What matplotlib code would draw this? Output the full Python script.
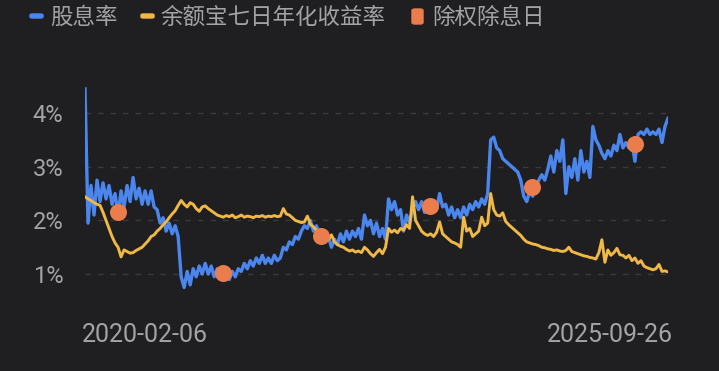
import matplotlib
matplotlib.use("Agg")
import matplotlib.pyplot as plt
import matplotlib.transforms as mtransforms
from matplotlib.patches import FancyBboxPatch
import pandas as pd

start_date = "2020-02-06"
end_date = "2025-09-26"

dividend_yield = [
    4.45, 1.95, 2.65, 2.1, 2.75, 2.35, 2.7, 2.4, 2.65, 2.3,
    2.5, 2.1, 2.55, 2.25, 2.65, 2.35, 2.8, 2.4, 2.6, 2.3,
    2.55, 2.3, 2.55, 2.25, 2.2, 1.95, 2.05, 1.8, 1.95, 1.75,
    1.9, 1.7, 0.95, 0.75, 1.05, 0.8, 1.1, 0.95, 1.15, 1.0,
    1.2, 1.0, 1.15, 0.95, 1.1, 1.0, 1.05, 0.95, 0.9, 1.05,
    0.95, 1.1, 1.05, 1.2, 1.1, 1.25, 1.15, 1.3, 1.2, 1.35,
    1.2, 1.3, 1.2, 1.35, 1.25, 1.3, 1.5, 1.45, 1.6, 1.55,
    1.7, 1.65, 1.8, 1.9, 1.85, 2.0, 1.8, 1.9, 1.75, 1.7,
    1.6, 1.7, 1.5, 1.65, 1.55, 1.75, 1.6, 1.8, 1.65, 1.8,
    1.7, 1.85, 1.65, 2.1, 1.9, 2.0, 1.75, 1.95, 1.7, 1.85,
    1.65, 2.4, 2.2, 2.35, 2.1, 2.2, 1.8, 2.1, 1.95, 2.2,
    2.35, 2.2, 2.35, 2.15, 2.3, 2.2, 2.35, 2.2, 2.5, 2.25,
    2.3, 2.1, 2.25, 2.05, 2.2, 2.05, 2.25, 2.1, 2.3, 2.2,
    2.35, 2.25, 2.4, 2.3, 2.5, 3.5, 3.55, 3.35, 3.3, 3.15,
    3.1, 3.05, 3.0, 2.95, 2.9, 2.75, 2.45, 2.35, 2.55, 2.45,
    2.65, 2.75, 2.85, 2.75, 2.95, 3.2, 2.9, 3.3, 3.1, 3.5,
    2.5, 3.0, 2.8, 3.15, 2.75, 3.3, 2.9, 3.1, 2.8, 3.75,
    3.5, 3.4, 3.25, 3.15, 3.3, 3.2, 3.4, 3.3, 3.6, 3.35,
    3.45, 3.35, 3.45, 3.1, 3.6, 3.65, 3.6, 3.7, 3.6, 3.65,
    3.6, 3.7, 3.45, 3.75, 3.9,
]

yuebao_7day = [
    2.44, 2.4, 2.37, 2.33, 2.3, 2.28, 2.15, 2.0, 1.85, 1.7,
    1.58, 1.5, 1.32, 1.45, 1.42, 1.39, 1.4, 1.44, 1.47, 1.5,
    1.56, 1.62, 1.7, 1.73, 1.8, 1.85, 1.92, 1.97, 2.05, 2.12,
    2.18, 2.28, 2.37, 2.3, 2.25, 2.33, 2.3, 2.22, 2.17, 2.25,
    2.27, 2.22, 2.18, 2.14, 2.1, 2.08, 2.06, 2.09, 2.07, 2.1,
    2.05, 2.07, 2.1, 2.06, 2.08, 2.07, 2.05, 2.08, 2.07, 2.09,
    2.06, 2.08, 2.07, 2.09, 2.07, 2.08, 2.22, 2.12, 2.1, 2.05,
    2.0, 1.98, 1.96, 1.97, 2.08, 1.93, 1.88, 1.82, 1.76, 1.72,
    1.68, 1.64, 1.73, 1.6, 1.55, 1.52, 1.5, 1.46, 1.43, 1.45,
    1.41, 1.43, 1.4, 1.5, 1.45, 1.38, 1.33, 1.4, 1.46, 1.38,
    1.5, 1.85, 1.78, 1.82, 1.77, 1.85, 1.82, 1.92, 1.85, 2.44,
    2.0, 1.9, 1.8, 1.75, 1.72, 1.75, 1.7, 1.78, 1.97, 1.75,
    1.7, 1.65, 1.6, 1.58, 1.55, 1.5, 2.06, 1.8, 1.85, 1.7,
    1.75, 1.8, 2.06, 1.9, 1.95, 2.5, 2.2, 2.1, 2.08, 2.14,
    1.98, 1.92, 1.87, 1.82, 1.77, 1.72, 1.65, 1.6, 1.58, 1.56,
    1.55, 1.53, 1.5, 1.49, 1.47, 1.46, 1.44, 1.45, 1.43, 1.42,
    1.44, 1.5, 1.42, 1.4, 1.38, 1.36, 1.34, 1.33, 1.31, 1.3,
    1.28, 1.4, 1.64, 1.22, 1.45, 1.35, 1.4, 1.48, 1.36, 1.35,
    1.3, 1.35, 1.25, 1.3, 1.2, 1.25, 1.15, 1.12, 1.1, 1.08,
    1.1, 1.18, 1.05, 1.06, 1.04,
]

exdiv_dates = ["2020-06-02", "2021-06-07", "2022-05-20", "2023-06-09", "2024-06-03", "2025-06-02"]
exdiv_values = [2.16, 1.02, 1.71, 2.27, 2.62, 3.42]

y_ticks = [1, 2, 3, 4]
y_tick_labels = ["1%", "2%", "3%", "4%"]
x_tick_labels = ["2020-02-06", "2025-09-26"]

legend_labels = ["股息率", "余额宝七日年化收益率", "除权除息日"]

BG = "#1f1f21"
BLUE = "#4a86ee"
YELLOW = "#f0b845"
ORANGE = "#ea7d4b"
TXT = "#a3a3a5"
GRID = "#3a3a3d"

dates_blue = pd.date_range(start_date, end_date, periods=len(dividend_yield))
dates_yellow = pd.date_range(start_date, end_date, periods=len(yuebao_7day))
ex_dates = pd.to_datetime(exdiv_dates)

W, H = 719, 371
fig = plt.figure(figsize=(W / 100, H / 100), dpi=100, facecolor=BG)

left, right = 85 / W, 668 / W
ymin, ymax = 0.6, 4.6
px_per = 53.7
top_px = 113 - (ymax - 4) * px_per
bot_px = 113 + (4 - ymin) * px_per
ax = fig.add_axes([left, 1 - bot_px / H, right - left, (bot_px - top_px) / H])
ax.set_facecolor(BG)

ax.plot(dates_yellow, yuebao_7day, color=YELLOW, lw=2.1, zorder=3, solid_joinstyle="round")
ax.plot(dates_blue, dividend_yield, color=BLUE, lw=2.4, zorder=2, solid_joinstyle="round")
ax.scatter(ex_dates, exdiv_values, s=150, color=ORANGE, zorder=4, linewidths=0)

ax.set_ylim(ymin, ymax)
ax.set_xlim(dates_blue[0], dates_blue[-1])
for v in y_ticks:
    ax.axhline(v, color=GRID, lw=1.0, dashes=(4, 5), zorder=1)

num_font = ["Roboto", "DejaVu Sans"]
ax.set_yticks(y_ticks)
ax.set_yticklabels(y_tick_labels, fontsize=17, color=TXT, family=num_font)
ax.set_xticks([dates_blue[0], dates_blue[-1]])
xt = ax.set_xticklabels(x_tick_labels, fontsize=18, color=TXT, family=num_font)
xt[0].set_ha("left")
xt[1].set_ha("right")
ax.tick_params(axis="y", length=0, pad=15.5)
ax.tick_params(axis="x", length=0, pad=20)
for lbl, dx in zip(ax.get_xticklabels(), (-3, 5)):
    lbl.set_transform(lbl.get_transform() + mtransforms.ScaledTranslation(dx / 100, 0, fig.dpi_scale_trans))
for s in ax.spines.values():
    s.set_visible(False)

# legend
cjk = ["Noto Sans CJK SC", "DejaVu Sans"]
items = [(30, BLUE, "line", 50), (141, YELLOW, "line", 160), (412, ORANGE, "box", 432)]
for (x0, col, kind, tx), lab in zip(items, legend_labels):
    if kind == "line":
        p = FancyBboxPatch((x0 / W, 1 - 18 / H), 13 / W, 4 / H,
                           boxstyle="round,pad=0,rounding_size=0.003",
                           transform=fig.transFigure, color=col)
    else:
        p = FancyBboxPatch((x0 / W, 1 - 24 / H), 11 / W, 15 / H,
                           boxstyle="round,pad=0,rounding_size=0.004",
                           transform=fig.transFigure, color=col)
    fig.patches.append(p)
    fig.text(tx / W, 1 - 17 / H, lab, color=TXT, fontsize=16.2, family=cjk,
             va="center", ha="left")

fig.savefig("out.png", dpi=100, facecolor=BG)
